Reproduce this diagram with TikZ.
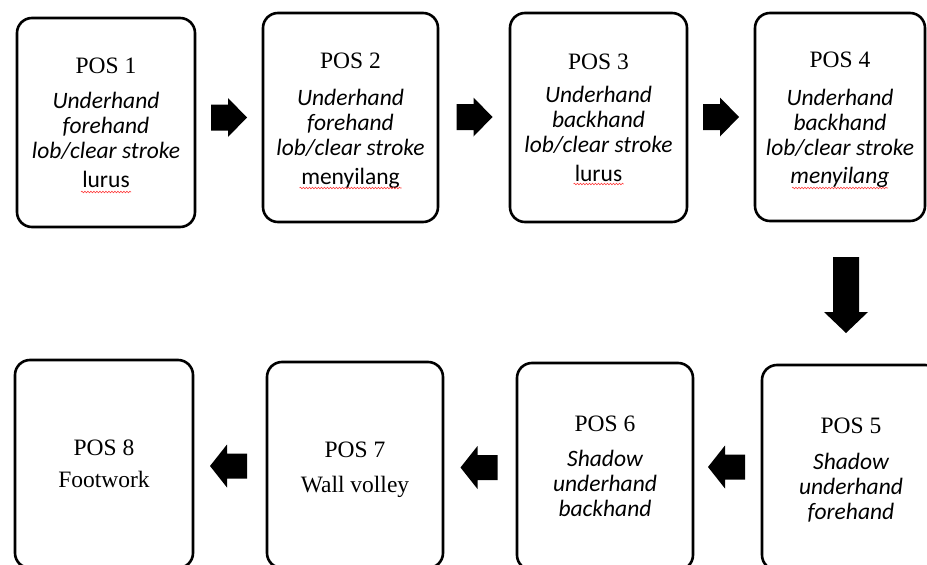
\documentclass[tikz,border=0pt]{standalone}
\usepackage{fontspec}
\setmainfont{Liberation Serif}
\newfontfamily\calfont{Carlito}
\usetikzlibrary{calc,decorations.pathmorphing}
\newcommand\lift[1]{\rule{0pt}{#1}}
\begin{document}
\begin{tikzpicture}[x=1pt,y=-1pt,
  box/.style={draw,line width=2.6pt,rounded corners=15pt,align=center,inner sep=0pt,
    font=\fontsize{23.5}{25}\selectfont},
  squig/.style={red!75,line width=0.6pt,decorate,decoration={snake,amplitude=0.8pt,segment length=3pt}},
  rarrow/.pic={\fill (-18,-13) -- (-1,-13) -- (-1,-19.5) -- (18,0) -- (-1,19.5) -- (-1,13) -- (-18,13) -- cycle;},
  larrow/.pic={\fill (18.5,-12.5) -- (-1.5,-12.5) -- (-1.5,-21.5) -- (-18.5,0) -- (-1.5,21.5) -- (-1.5,12.5) -- (18.5,12.5) -- cycle;}
]
\useasboundingbox (0,0) rectangle (927,565);
\clip (0,0) rectangle (927,565);
\fill[white] (0,0) rectangle (927,565);

\node[box,minimum width=178pt,minimum height=209pt] (b1) at (106,122.5)
  {\lift{17pt}POS 1\\[10pt]{\calfont\itshape Underhand}\\{\calfont\itshape forehand}\\{\calfont\itshape lob/clear stroke}\\[4pt]{\calfont lurus}};
\node[box,minimum width=175pt,minimum height=209pt] (b2) at (350.5,117.5)
  {\lift{22pt}POS 2\\[12.5pt]{\calfont\itshape Underhand}\\{\calfont\itshape forehand}\\{\calfont\itshape lob/clear stroke}\\[3.5pt]{\calfont menyilang}};
\node[box,minimum width=177pt,minimum height=209pt] (b3) at (598.5,117.5)
  {\lift{16pt}POS 3\\[8.5pt]{\calfont\itshape Underhand}\\{\calfont\itshape backhand}\\{\calfont\itshape lob/clear stroke}\\[3.5pt]{\calfont lurus}};
\node[box,minimum width=170pt,minimum height=208pt] (b4) at (840,117)
  {\lift{22pt}POS 4\\[12.5pt]{\calfont\itshape Underhand}\\{\calfont\itshape backhand}\\{\calfont\itshape lob/clear stroke}\\[3.5pt]{\calfont\itshape menyilang}};

\node[box,minimum width=178pt,minimum height=205pt] (b5) at (851,467.5)
  {\lift{20pt}POS 5\\[11pt]{\calfont\itshape Shadow}\\{\calfont\itshape underhand}\\{\calfont\itshape forehand}};
\node[box,minimum width=176pt,minimum height=207pt] (b6) at (605,466.5)
  {POS 6\\[10pt]{\calfont\itshape Shadow}\\{\calfont\itshape underhand}\\{\calfont\itshape backhand}};
\node[box,minimum width=176pt,minimum height=206pt] (b7) at (355,465)
  {\lift{25pt}POS 7\\[10pt]Wall volley};
\node[box,minimum width=178pt,minimum height=208pt] (b8) at (104,464)
  {POS 8\\[7pt]Footwork};

\draw[squig] ($(b1.center)+(-25,69.5)$) -- ($(b1.center)+(25,69.5)$);
\draw[squig] ($(b2.center)+(-51,70.5)$) -- ($(b2.center)+(51,70.5)$);
\draw[squig] ($(b3.center)+(-25,66.5)$) -- ($(b3.center)+(25,66.5)$);
\draw[squig] ($(b4.center)+(-48,71)$) -- ($(b4.center)+(48,71)$);

\pic at (229,117.5) {rarrow};
\pic at (474.5,117) {rarrow};
\pic at (721,117) {rarrow};
\fill (833,257) -- (859,257) -- (859,312) -- (868,312) -- (846,333) -- (824,312) -- (833,312) -- cycle;
\pic at (726.5,467) {larrow};
\pic at (479,467.5) {larrow};
\pic at (228.5,466) {larrow};
\end{tikzpicture}
\end{document}
